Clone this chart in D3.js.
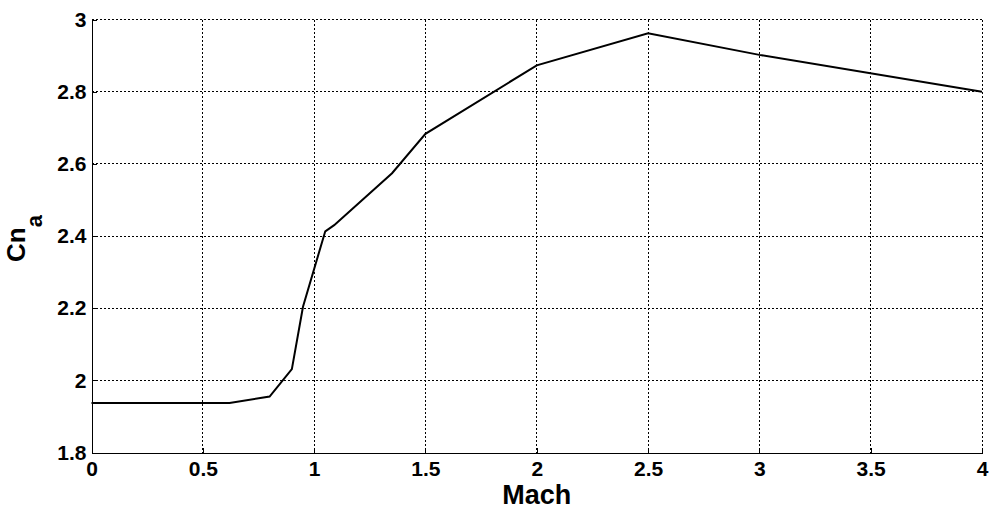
<!DOCTYPE html>
<meta charset="utf-8">
<style>
    body {
        margin: 0;
        background-color: #fff;
    }

    .axis text {
        font: bold 21px "Liberation Sans", Arial, sans-serif;
        fill: #000;
    }

    .axis path,
    .axis line {
        fill: none;
        stroke: #000;
        stroke-width: 1px;
        shape-rendering: crispEdges;
    }

    .grid line {
        stroke: #000;
        stroke-width: 1px;
        stroke-dasharray: 2, 2;
        shape-rendering: crispEdges;
    }

    .line {
        fill: none;
        stroke: #000;
        stroke-width: 2px;
    }

    .label {
        font: bold 27px "Liberation Sans", Arial, sans-serif;
        fill: #000;
    }
</style>

<body>
    <svg width="993" height="510"></svg>
</body>
<script src="https://d3js.org/d3.v7.min.js"></script>
<script>
    // Mach number vs Cn_alpha
    var mach = [0, 0.62, 0.8, 0.9, 0.95, 1.05, 1.09, 1.35, 1.5, 2, 2.5, 3, 4];
    var cna = [1.937, 1.937, 1.955, 2.031, 2.204, 2.413, 2.43, 2.574, 2.683, 2.873, 2.962, 2.902, 2.8];
    var xTicks = [0, 0.5, 1, 1.5, 2, 2.5, 3, 3.5, 4];
    var yTicks = [1.8, 2, 2.2, 2.4, 2.6, 2.8, 3];

    var svg = d3.select("svg"),
        margin = {
            top: 19.5,
            right: 11,
            bottom: 57.5,
            left: 91.5
        },
        width = +svg.attr("width") - margin.left - margin.right,
        height = +svg.attr("height") - margin.top - margin.bottom;

    var data = mach.map(function(m, i) {
        return { mach: m, value: cna[i] };
    });

    var x = d3.scaleLinear().domain([0, 4]).range([0, width]);
    var y = d3.scaleLinear().domain([1.8, 3]).range([height, 0]);

    var g = svg.append("g")
        .attr("transform", "translate(" + margin.left + "," + margin.top + ")");

    // dotted grid (also makes the top and right edges)
    g.append("g")
        .attr("class", "grid")
        .selectAll("line.v")
        .data(xTicks.slice(1))
        .enter().append("line")
        .attr("x1", function(d) { return x(d); })
        .attr("x2", function(d) { return x(d); })
        .attr("y1", 0)
        .attr("y2", height);

    g.append("g")
        .attr("class", "grid")
        .selectAll("line.h")
        .data(yTicks.slice(1))
        .enter().append("line")
        .attr("x1", 0)
        .attr("x2", width)
        .attr("y1", function(d) { return y(d); })
        .attr("y2", function(d) { return y(d); });

    g.append("g")
        .attr("class", "axis axis--x")
        .attr("transform", "translate(0," + height + ")")
        .call(d3.axisBottom(x).tickValues(xTicks).tickFormat(d3.format("")).tickSizeInner(-5).tickSizeOuter(0).tickPadding(9));

    g.append("g")
        .attr("class", "axis axis--y")
        .call(d3.axisLeft(y).tickValues(yTicks).tickFormat(d3.format("")).tickSizeInner(-5).tickSizeOuter(0).tickPadding(5));

    g.append("path")
        .datum(data)
        .attr("class", "line")
        .attr("d", d3.line()
            .x(function(d) { return x(d.mach); })
            .y(function(d) { return y(d.value); }));

    svg.append("text")
        .attr("class", "label")
        .attr("x", margin.left + width / 2)
        .attr("y", 504)
        .attr("text-anchor", "middle")
        .text("Mach");

    var ylab = svg.append("text")
        .attr("class", "label")
        .attr("transform", "translate(25,262) rotate(-90)")
        .style("font-size", "26px");
    ylab.append("tspan").text("Cn");
    ylab.append("tspan").attr("dy", 17).style("font-size", "22px").text("a");
</script>
